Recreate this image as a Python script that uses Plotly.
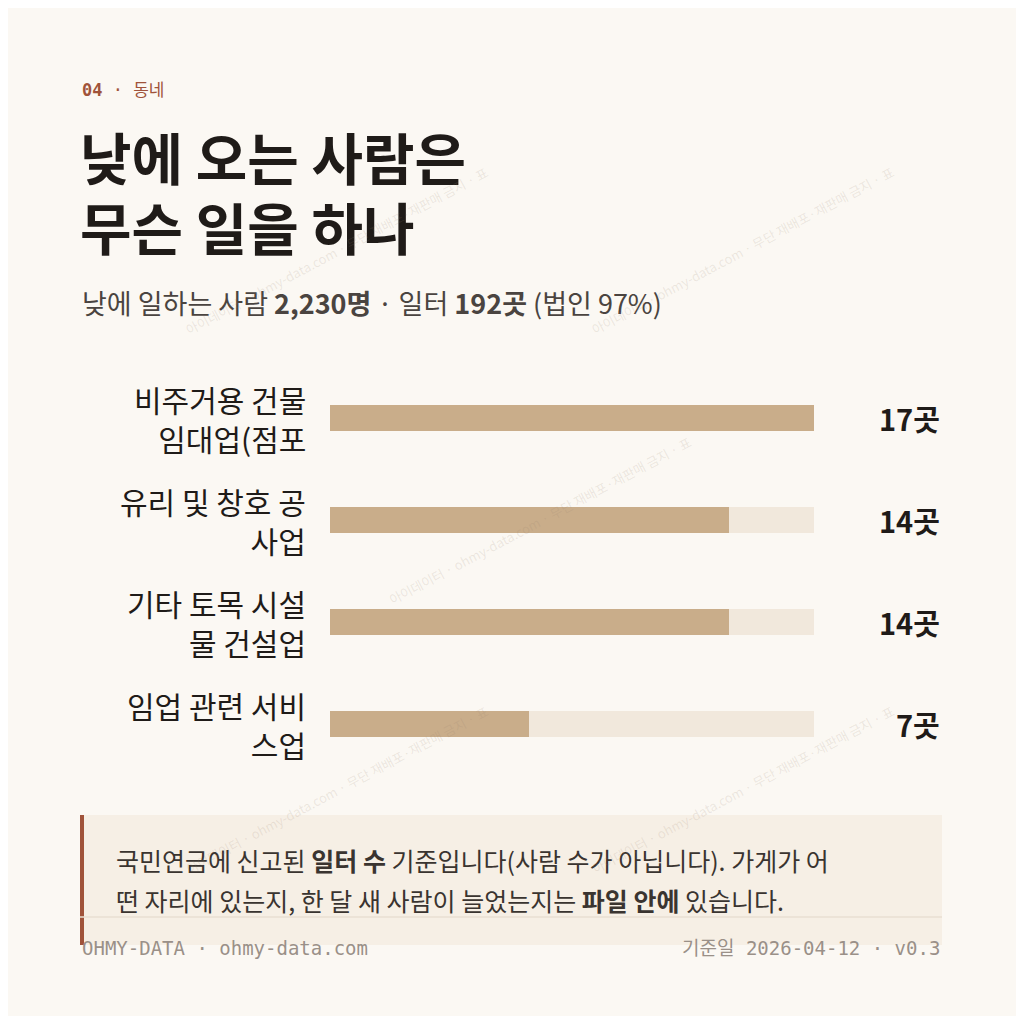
import plotly.graph_objects as go

categories = ["비주거용 건물<br>임대업(점포", "유리 및 창호 공<br>사업", "기타 토목 시설<br>물 건설업", "임업 관련 서비<br>스업"]
values = [17, 14, 14, 7]
value_labels = ["17곳", "14곳", "14곳", "7곳"]
max_val = 17

W = 1008
OFF = 8
def py(p): return 1 - (p - OFF) / W
def px(p): return (p - OFF) / W

ypos = list(range(len(categories)))
F = "Noto Sans CJK KR"
fig = go.Figure()
fig.add_trace(go.Bar(y=ypos, x=[max_val]*len(values), orientation="h", width=0.255,
                     marker=dict(color="#f1e8dc", line_width=0), hoverinfo="skip"))
fig.add_trace(go.Bar(y=ypos, x=values, orientation="h", width=0.255,
                     marker=dict(color="#c9ad8a", line_width=0)))

ann = []
for i, (c, v) in enumerate(zip(categories, value_labels)):
    ann.append(dict(x=px(308), y=i, xref="paper", yref="y", text=c, showarrow=False,
                    xanchor="right", yanchor="middle", align="right",
                    font=dict(family=F, size=30, color="#1f1b18")))
    ann.append(dict(x=px(942), y=i, xref="paper", yref="y", text="<b>%s</b>" % v, showarrow=False,
                    xanchor="right", yanchor="middle", font=dict(family=F, size=29, color="#1f1b18")))

def t(x, y, text, size, color, anchor="left", family=F, ya="middle"):
    ann.append(dict(x=px(x), y=py(y), xref="paper", yref="paper", text=text, showarrow=False,
                    xanchor=anchor, yanchor=ya, align="left", font=dict(family=family, size=size, color=color)))

t(80, 90, "<b>04</b> · 동네", 17, "#a0533a", family="DejaVu Sans Mono, " + F)
t(78, 155, "<b>낮에 오는 사람은</b>", 56, "#1f1b18")
t(78, 225, "<b>무슨 일을 하나</b>", 56, "#1f1b18")
t(80, 302, "낮에 일하는 사람 <b>2,230명</b> · 일터 <b>192곳</b> (법인 97%)", 27, "#4a4440")
t(114, 860, "국민연금에 신고된 <b>일터 수</b> 기준입니다(사람 수가 아닙니다). 가게가 어", 25, "#3a3430")
t(114, 900, "떤 자리에 있는지, 한 달 새 사람이 늘었는지는 <b>파일 안에</b> 있습니다.", 25, "#3a3430")
t(80, 948, "OHMY-DATA · ohmy-data.com", 19, "#9a9088", family="DejaVu Sans Mono")
t(942, 948, "기준일 2026-04-12 · v0.3", 19, "#9a9088", anchor="right", family="DejaVu Sans Mono, " + F)

# faint watermark
wm = "아이데이터 · ohmy-data.com · 무단 재배포·재판매 금지 · 표"
for gx, gy in ((0, 100), (360, 460), (720, 100), (0, 820), (720, 820)):
    ann.append(dict(x=px(gx + 180), y=py(gy + 60), xref="paper", yref="paper", text=wm,
                    showarrow=False, textangle=-28, font=dict(family=F, size=13, color="rgba(150,130,110,0.16)")))

shapes = [
    dict(type="rect", xref="paper", yref="paper", x0=px(80), x1=px(942), y0=py(945), y1=py(815),
         fillcolor="#f6efe5", line_width=0, layer="below"),
    dict(type="rect", xref="paper", yref="paper", x0=px(80), x1=px(84), y0=py(945), y1=py(815),
         fillcolor="#a0533a", line_width=0),
    dict(type="line", xref="paper", yref="paper", x0=px(80), x1=px(942), y0=py(917), y1=py(917),
         line=dict(color="#e8dfd2", width=1.5)),
]

fig.update_layout(
    width=W, height=W, margin=dict(l=0, r=0, t=0, b=0),
    paper_bgcolor="#fbf8f3", plot_bgcolor="rgba(0,0,0,0)",
    barmode="overlay", showlegend=False, bargap=0,
    xaxis=dict(domain=[px(330), px(814)], range=[0, max_val], visible=False, fixedrange=True),
    yaxis=dict(domain=[py(775), py(367)], range=[3.5, -0.5], visible=False, fixedrange=True),
    annotations=ann, shapes=shapes,
)
fig.write_html("out.html")
